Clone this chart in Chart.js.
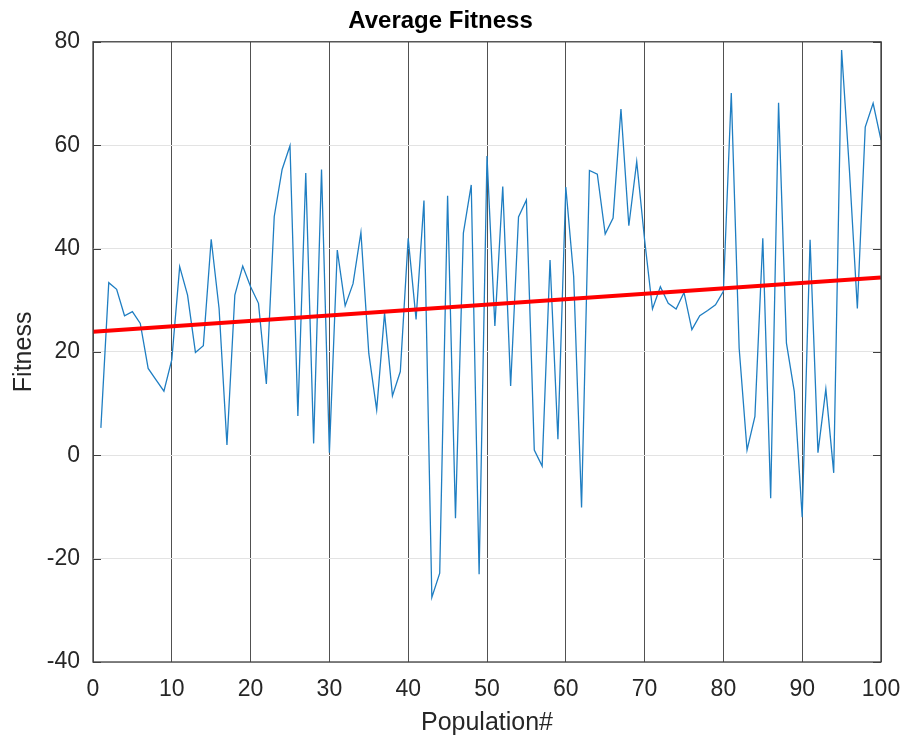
<!DOCTYPE html>
<html>
<head>
<meta charset="utf-8">
<script src="https://cdn.jsdelivr.net/npm/chart.js@4/dist/chart.umd.min.js"></script>
<style>
  html, body { margin: 0; padding: 0; background: #fff; }
  #wrap { width: 906px; height: 738px; }
</style>
</head>
<body>
<div id="wrap"><canvas id="fitnessChart" width="906" height="738"></canvas></div>
<script>
const population = [
  1, 2, 3, 4, 5, 6, 7, 8, 9, 10, 11, 12, 13, 14, 15, 16, 17, 18, 19, 20,
  21, 22, 23, 24, 25, 26, 27, 28, 29, 30, 31, 32, 33, 34, 35, 36, 37, 38, 39, 40,
  41, 42, 43, 44, 45, 46, 47, 48, 49, 50, 51, 52, 53, 54, 55, 56, 57, 58, 59, 60,
  61, 62, 63, 64, 65, 66, 67, 68, 69, 70, 71, 72, 73, 74, 75, 76, 77, 78, 79, 80,
  81, 82, 83, 84, 85, 86, 87, 88, 89, 90, 91, 92, 93, 94, 95, 96, 97, 98, 99, 100
];
const avgFitness = [
  5.3, 33.4, 32.1, 27.0, 27.8, 25.5, 16.8, 14.6, 12.4, 18.5,
  36.5, 31.0, 19.9, 21.2, 41.8, 28.4, 2.0, 31.0, 36.6, 32.6,
  29.4, 13.8, 46.2, 55.3, 59.9, 7.6, 54.6, 2.3, 55.3, 0.5,
  39.7, 28.9, 33.2, 43.1, 19.7, 8.8, 27.5, 11.5, 16.2, 42.0,
  26.3, 49.3, -27.5, -22.8, 50.2, -12.2, 43.0, 52.3, -23.0, 57.9,
  25.0, 52.0, 13.4, 46.1, 49.4, 1.0, -2.1, 37.8, 3.1, 51.9,
  34.6, -10.1, 55.1, 54.4, 42.8, 45.9, 67.0, 44.4, 56.8, 41.7,
  28.3, 32.6, 29.4, 28.3, 31.5, 24.3, 27.0, 28.0, 29.1, 31.7,
  70.1, 20.7, 1.0, 7.5, 42.0, -8.3, 68.2, 21.7, 12.3, -12.0,
  41.7, 0.5, 12.8, -3.4, 78.4, 55.0, 28.4, 63.5, 68.1, 61.0
];
// fitted trend line end points
const trendX = [0, 100];
const trendY = [23.9, 34.4];

const xTicks = [0, 10, 20, 30, 40, 50, 60, 70, 80, 90, 100];
const yTicks = [-40, -20, 0, 20, 40, 60, 80];

// box round the plot plus short inward tick marks
const boxPlugin = {
  id: 'box',
  afterDraw(chart) {
    const { ctx, chartArea: a, scales } = chart;
    ctx.save();
    ctx.strokeStyle = '#404040';
    ctx.lineWidth = 1.3;
    ctx.strokeRect(a.left, a.top, a.right - a.left, a.bottom - a.top);
    ctx.lineWidth = 1;
    ctx.beginPath();
    yTicks.forEach(v => {
      const y = Math.round(scales.y.getPixelForValue(v)) + 0.5;
      ctx.moveTo(a.left, y); ctx.lineTo(a.left + 8, y);
      ctx.moveTo(a.right, y); ctx.lineTo(a.right - 8, y);
    });
    ctx.stroke();
    ctx.restore();
  }
};

new Chart(document.getElementById('fitnessChart'), {
  type: 'line',
  data: {
    datasets: [
      {
        label: 'Trend',
        data: trendX.map((x, i) => ({ x: x, y: trendY[i] })),
        borderColor: '#ff0000',
        borderWidth: 4,
        pointRadius: 0,
        tension: 0
      },
      {
        label: 'Average Fitness',
        data: population.map((x, i) => ({ x: x, y: avgFitness[i] })),
        borderColor: '#1f7ec2',
        borderWidth: 1.3,
        pointRadius: 0,
        tension: 0
      }
    ]
  },
  options: {
    responsive: false,
    animation: false,
    layout: { padding: { left: 0, right: 25, top: 0, bottom: 0 } },
    plugins: {
      legend: { display: false },
      tooltip: { enabled: false },
      title: {
        display: true,
        text: 'Average Fitness',
        color: '#000',
        font: { family: 'Liberation Sans, Arial, sans-serif', size: 24, weight: 'bold' },
        padding: { top: 7, bottom: 6 }
      }
    },
    scales: {
      x: {
        type: 'linear',
        min: 0,
        max: 100,
        afterBuildTicks: s => { s.ticks = xTicks.map(v => ({ value: v })); },
        afterFit: s => { s.height = 76; s.paddingLeft = 0; s.paddingRight = 0; },
        grid: { color: 'rgba(50,50,50,0.85)', lineWidth: 1, drawTicks: false },
        border: { display: false },
        ticks: {
          color: '#262626',
          padding: 14,
          maxRotation: 0,
          font: { family: 'Liberation Sans, Arial, sans-serif', size: 23 }
        },
        title: {
          display: true,
          text: 'Population#',
          color: '#262626',
          padding: { top: 0, bottom: 0 },
          font: { family: 'Liberation Sans, Arial, sans-serif', size: 25 }
        }
      },
      y: {
        min: -40,
        max: 80,
        afterBuildTicks: s => { s.ticks = yTicks.map(v => ({ value: v })); },
        afterFit: s => { s.width = 93; },
        grid: { color: '#e3e3e3', lineWidth: 1, drawTicks: false },
        border: { display: false },
        ticks: {
          color: '#262626',
          padding: 13,
          font: { family: 'Liberation Sans, Arial, sans-serif', size: 23 }
        },
        title: {
          display: true,
          text: 'Fitness',
          color: '#262626',
          padding: { top: 9, bottom: 0 },
          font: { family: 'Liberation Sans, Arial, sans-serif', size: 25 }
        }
      }
    }
  },
  plugins: [boxPlugin]
});
</script>
</body>
</html>
